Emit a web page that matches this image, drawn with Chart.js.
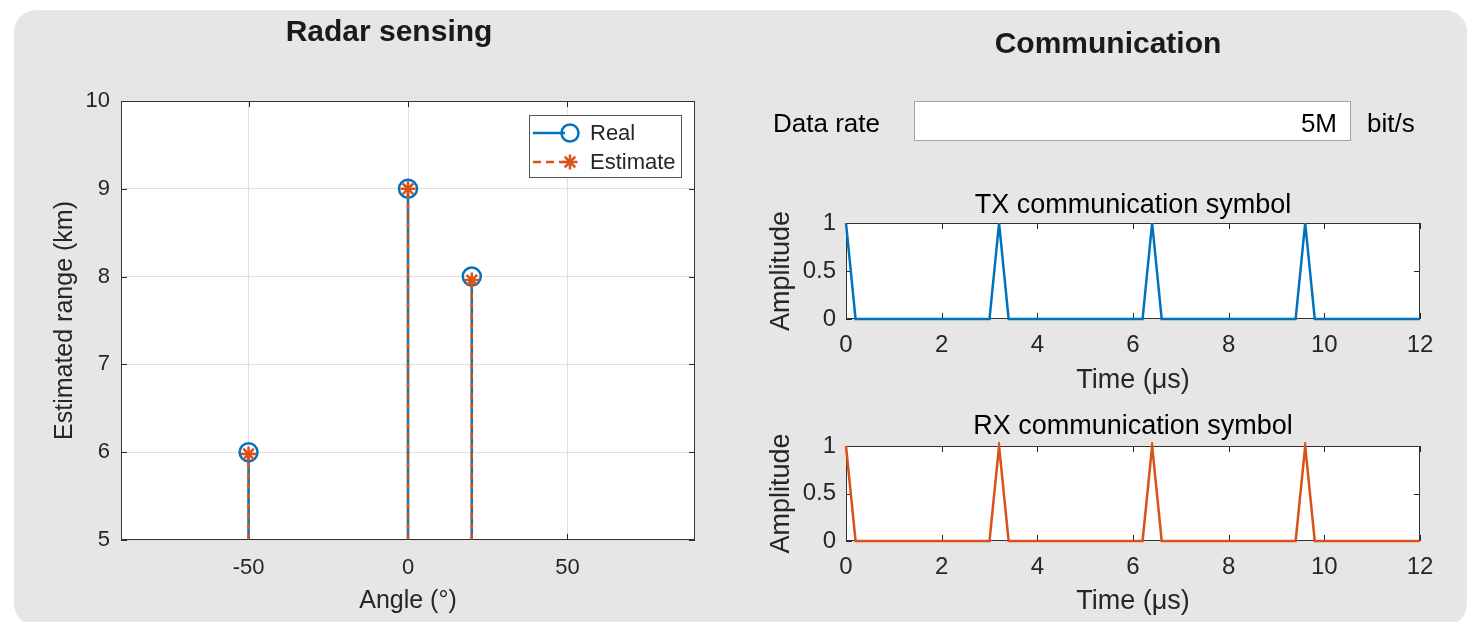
<!DOCTYPE html>
<html><head><meta charset="utf-8">
<script src="https://cdn.jsdelivr.net/npm/chart.js@4.4.1/dist/chart.umd.min.js"></script>
<style>
html,body{margin:0;padding:0;background:#fff;}
#stage{position:relative;width:1478px;height:622px;overflow:hidden;font-family:"Liberation Sans",Arial,sans-serif;color:#000;}
#panel{position:absolute;left:14px;top:10px;width:1453px;height:616px;background:#e6e6e6;border-radius:22px;}
canvas{position:absolute;left:0;top:0;}
.t{position:absolute;white-space:nowrap;}
#rateBox{position:absolute;left:914px;top:101px;width:437px;height:40px;box-sizing:border-box;background:#fff;border:1px solid #a3a3a3;font-size:26px;line-height:42px;text-align:right;padding-right:13px;color:#000;}
</style></head><body>
<div id="stage">
<div id="panel"></div>
<canvas id="radar" width="1478" height="622"></canvas>
<canvas id="tx" width="1478" height="622"></canvas>
<canvas id="rx" width="1478" height="622"></canvas>
<div class="t" style="left:389px;top:13px;font-size:30px;font-weight:bold;line-height:36px;transform:translateX(-50%);color:#1a1a1a">Radar sensing</div>
<div class="t" style="left:1108px;top:25px;font-size:30px;font-weight:bold;line-height:36px;transform:translateX(-50%);color:#1a1a1a">Communication</div>
<div class="t" style="left:773px;top:108px;font-size:26px;line-height:30px;">Data rate</div>
<div id="rateBox">5M</div>
<div class="t" style="left:1367px;top:108px;font-size:26px;line-height:30px;">bit/s</div>
</div>
<script>
// ---- data ----
const angleTicks = [-50, 0, 50];
const rangeTicks = [5, 6, 7, 8, 9, 10];
const realAngle = [-50, 0, 20];
const realRange = [6, 9, 8];
const estAngle = [-50, 0, 20];
const estRange = [5.98, 9.0, 7.96];
const stemBase = 0;

const timeTicks = [0, 2, 4, 6, 8, 10, 12];
const ampTicks = [0, 0.5, 1];
const txTime = [0, 0.2, 3.0, 3.2, 3.4, 6.2, 6.4, 6.6, 9.4, 9.6, 9.8, 12];
const txAmp  = [1, 0,   0,   1,   0,   0,   1,   0,   0,   1,   0,   0];
const rxTime = [0, 0.2, 3.0, 3.2, 3.4, 6.2, 6.4, 6.6, 9.4, 9.6, 9.8, 12];
const rxAmp  = [1, 0,   0,   1,   0,   0,   1,   0,   0,   1,   0,   0];

// ---- styles ----
const BLUE = '#0072BD', ORANGE = '#D95319', AX = '#262626';
const FAM = '"Liberation Sans", Arial, sans-serif';
Chart.defaults.font.family = FAM;
Chart.defaults.color = AX;

function stemPoints(xs, ys) {
  const pts = [];
  xs.forEach((x, i) => { pts.push({x: x, y: stemBase}, {x: x, y: ys[i]}, {x: x, y: null}); });
  return pts;
}
function linePoints(xs, ys) { return xs.map((x, i) => ({x: x, y: ys[i]})); }
function fixTicks(arr) { return s => { s.ticks = arr.map(v => ({value: v})); }; }

const boxPlugin = {
  id: 'mBox',
  beforeDraw(chart) {
    const a = chart.chartArea, c = chart.ctx;
    c.save(); c.fillStyle = '#fff'; c.fillRect(a.left, a.top, a.right - a.left, a.bottom - a.top); c.restore();
  },
  beforeDatasetsDraw(chart) {
    const a = chart.chartArea, c = chart.ctx, L = 6;
    c.save();
    c.strokeStyle = AX; c.lineWidth = 1;
    c.beginPath();
    chart.scales.x.ticks.forEach(t => {
      const p = Math.round(chart.scales.x.getPixelForValue(t.value)) + 0.5;
      c.moveTo(p, a.bottom); c.lineTo(p, a.bottom - L);
      c.moveTo(p, a.top); c.lineTo(p, a.top + L);
    });
    chart.scales.y.ticks.forEach(t => {
      const p = Math.round(chart.scales.y.getPixelForValue(t.value)) + 0.5;
      c.moveTo(a.left, p); c.lineTo(a.left + L, p);
      c.moveTo(a.right, p); c.lineTo(a.right - L, p);
    });
    c.stroke();
    c.strokeStyle = '#333';
    c.strokeRect(Math.round(a.left) + 0.5, Math.round(a.top) + 0.5, Math.round(a.right - a.left) - 1, Math.round(a.bottom - a.top) - 1);
    c.restore();
  }
};

function drawStar(c, x, y, r) {
  for (let k = 0; k < 4; k++) {
    const ang = k * Math.PI / 4;
    c.moveTo(x + r * Math.cos(ang), y + r * Math.sin(ang));
    c.lineTo(x - r * Math.cos(ang), y - r * Math.sin(ang));
  }
}

const legendPlugin = {
  id: 'mLegend',
  afterDraw(chart) {
    const a = chart.chartArea, c = chart.ctx;
    const w = 153, h = 63, x0 = Math.round(a.right - 13 - w), y0 = Math.round(a.top + 14);
    c.save();
    c.fillStyle = '#fff'; c.fillRect(x0, y0, w, h);
    c.strokeStyle = '#555'; c.lineWidth = 1; c.strokeRect(x0 + 0.5, y0 + 0.5, w - 1, h - 1);
    chart.data.datasets.forEach((ds, i) => {
      const y = y0 + 18 + i * 29;
      c.strokeStyle = ds.borderColor; c.lineWidth = ds.borderWidth;
      c.setLineDash(ds.borderDash ? [8, 5] : []);
      c.beginPath(); c.moveTo(x0 + 4, y); c.lineTo(x0 + 36, y); c.stroke();
      c.setLineDash([]);
      c.lineWidth = ds.pointBorderWidth;
      c.beginPath();
      if (ds.pointStyle === 'circle') { c.arc(x0 + 41, y, 8.5, 0, Math.PI * 2); }
      else { drawStar(c, x0 + 41, y, 7.5); }
      c.stroke();
      c.fillStyle = AX; c.font = '22px ' + FAM; c.textBaseline = 'middle'; c.textAlign = 'left';
      c.fillText(ds.label, x0 + 61, y + 1);
    });
    c.restore();
  }
};

// ---- radar chart ----
new Chart(document.getElementById('radar'), {
  type: 'line',
  data: { datasets: [
    { label: 'Real', data: stemPoints(realAngle, realRange), borderColor: BLUE, borderWidth: 2.5,
      pointStyle: 'circle', pointRadius: ctx => (ctx.dataIndex % 3 === 1 ? 9 : 0),
      pointBorderColor: BLUE, pointBackgroundColor: 'rgba(0,0,0,0)', pointBorderWidth: 2.5, order: 2, spanGaps: false },
    { label: 'Estimate', data: stemPoints(estAngle, estRange), borderColor: ORANGE, borderWidth: 2.5, borderDash: [6, 4],
      pointStyle: 'star', pointRadius: ctx => (ctx.dataIndex % 3 === 1 ? 7.5 : 0),
      pointBorderColor: ORANGE, pointBackgroundColor: ORANGE, pointBorderWidth: 2.5, order: 1, spanGaps: false }
  ]},
  options: {
    responsive: false, animation: false, devicePixelRatio: 1, events: [],
    layout: { padding: { left: 40, right: 783, top: 101, bottom: 0 } },
    plugins: { legend: { display: false }, tooltip: { enabled: false }, title: { display: false } },
    scales: {
      x: { type: 'linear', min: -90, max: 90, afterBuildTicks: fixTicks(angleTicks), afterFit: s => { s.height = 82; },
        grid: { color: '#dfdfdf', drawTicks: false }, border: { display: false },
        ticks: { padding: 15, color: AX, font: { size: 22, lineHeight: '26px' }, maxRotation: 0, autoSkip: false, callback: v => String(v) },
        title: { display: true, text: 'Angle (°)', color: AX, font: { size: 25, lineHeight: '30px' }, padding: { top: 0, bottom: 6 } } },
      y: { type: 'linear', min: 5, max: 10, afterBuildTicks: fixTicks(rangeTicks), afterFit: s => { s.width = 81; },
        grid: { color: '#dfdfdf', drawTicks: false }, border: { display: false },
        ticks: { padding: 11, color: AX, font: { size: 22, lineHeight: '26px' }, autoSkip: false, callback: v => String(v) },
        title: { display: true, text: 'Estimated range (km)', color: AX, font: { size: 25, lineHeight: '30px' }, padding: { top: 10, bottom: 0 } } }
    }
  },
  plugins: [boxPlugin, legendPlugin]
});

// ---- communication charts ----
function commChart(id, title, xs, ys, color, padTop, padBottom, titlePad, xHeight, xTitlePadBottom) {
  return new Chart(document.getElementById(id), {
    type: 'line',
    data: { datasets: [{ label: title, data: linePoints(xs, ys), borderColor: color, borderWidth: 2.5, pointRadius: 0, tension: 0, clip: 4 }] },
    options: {
      responsive: false, animation: false, devicePixelRatio: 1, events: [],
      layout: { padding: { left: 760, right: 58, top: padTop, bottom: padBottom } },
      plugins: { legend: { display: false }, tooltip: { enabled: false },
        title: { display: true, text: title, fullSize: false, color: '#000', font: { size: 27, weight: 'normal', lineHeight: '32px' }, padding: titlePad } },
      scales: {
        x: { type: 'linear', min: 0, max: 12, afterBuildTicks: fixTicks(timeTicks), afterFit: s => { s.height = xHeight; },
          grid: { display: false, drawTicks: false }, border: { display: false },
          ticks: { padding: 12, color: AX, font: { size: 24, lineHeight: '28px' }, maxRotation: 0, autoSkip: false, callback: v => String(v) },
          title: { display: true, text: 'Time (μs)', color: AX, font: { size: 27, lineHeight: '32px' }, padding: { top: 0, bottom: xTitlePadBottom } } },
        y: { type: 'linear', min: 0, max: 1, afterBuildTicks: fixTicks(ampTicks), afterFit: s => { s.width = 86; },
          grid: { display: false, drawTicks: false }, border: { display: false },
          ticks: { padding: 10, color: AX, font: { size: 24, lineHeight: '28px' }, autoSkip: false, callback: v => String(v) },
          title: { display: true, text: 'Amplitude', color: AX, font: { size: 27, lineHeight: '32px' }, padding: { top: 6, bottom: 0 } } }
      }
    },
    plugins: [boxPlugin]
  });
}
commChart('tx', 'TX communication symbol', txTime, txAmp, BLUE, 180, 223, { top: 10, bottom: 1 }, 80, 2);
commChart('rx', 'RX communication symbol', rxTime, rxAmp, ORANGE, 400, 0, { top: 11, bottom: 3 }, 81, 4);
</script>
</body></html>
